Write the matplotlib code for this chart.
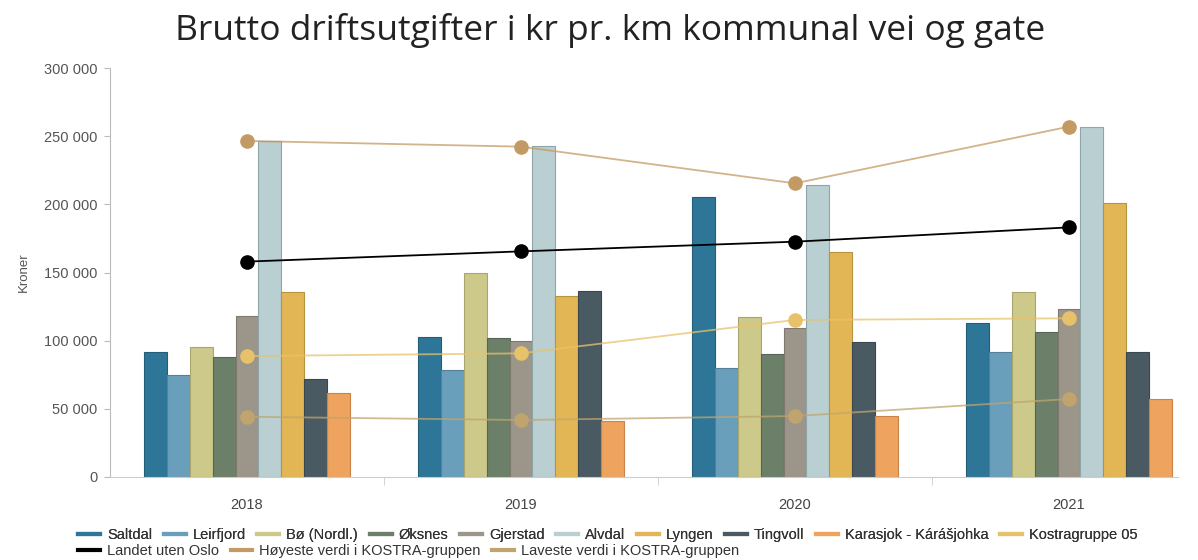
import numpy as np
import matplotlib.pyplot as plt

years = ["2018", "2019", "2020", "2021"]

# kommuner (bars)
kommuner = ["Saltdal", "Leirfjord", "Bø (Nordl.)", "Øksnes", "Gjerstad",
            "Alvdal", "Lyngen", "Tingvoll", "Karasjok - Kárášjohka"]
saltdal = [92000, 102700, 205600, 113200]
leirfjord = [74600, 78500, 79700, 91900]
bo = [95600, 149900, 117100, 135500]
oksnes = [88000, 101700, 90200, 106600]
gjerstad = [118000, 99800, 109300, 123000]
alvdal = [246500, 242800, 214200, 257000]
lyngen = [135500, 132800, 165300, 200700]
tingvoll = [71900, 136400, 98800, 91900]
karasjok = [61900, 41100, 44700, 57200]

# reference lines
kostragruppe = [88700, 90700, 115200, 116400]
landet = [158000, 165500, 172600, 183100]
hoyeste = [246500, 242300, 215400, 257000]
laveste = [44200, 41800, 44700, 57200]

bar_values = [saltdal, leirfjord, bo, oksnes, gjerstad, alvdal, lyngen, tingvoll, karasjok]
bar_colors = ["#2e7698", "#6a9fbb", "#cdc98a", "#6b7f69", "#9c9589",
              "#b9cfd2", "#e3b655", "#4a5a63", "#eea35e"]
bar_edges = ["#245d78", "#55809a", "#a9a56f", "#566655", "#7f786e",
             "#8fa5a8", "#b8933f", "#3a474f", "#c8844a"]

plt.rcParams['font.family'] = ['Liberation Sans', 'DejaVu Sans']

fig = plt.figure(figsize=(11.98, 5.60), dpi=100)
ax = fig.add_axes([110 / 1198, 1 - 477 / 560, (1178 - 110) / 1198, (477 - 68) / 560])

x = np.arange(len(years))
w = 0.0836
for i, (vals, c, ec) in enumerate(zip(bar_values, bar_colors, bar_edges)):
    ax.bar(x + (i - 4) * w, vals, width=w, color=c, edgecolor=ec,
           linewidth=0.8, label=kommuner[i], zorder=2)

line_handles = []
for vals, c, lab, a in [(kostragruppe, "#e8c26a", "Kostragruppe 05", 0.75),
                        (landet, "#000000", "Landet uten Oslo", 1.0),
                        (hoyeste, "#c49a64", "Høyeste verdi i KOSTRA-gruppen", 0.75),
                        (laveste, "#bfa56d", "Laveste verdi i KOSTRA-gruppen", 0.75)]:
    ax.plot(x, vals, color=c, lw=1.3, alpha=a, zorder=3)
    ax.plot(x, vals, 'o', color=c, ms=9.5, zorder=4)
    line_handles.append(plt.Line2D([], [], color=c, lw=3, label=lab))

ax.set_xlim(-0.5, -0.5 + (1178 - 110) / 274)
ax.set_ylim(0, 300000)
ax.set_yticks(np.arange(0, 300001, 50000))
ax.set_yticklabels([f"{v:,}".replace(",", " ") for v in range(0, 300001, 50000)])
ax.set_xticks(x)
ax.set_xticklabels(years)
ax.set_xticks(np.arange(0.5, 3.5, 1), minor=True)

for s in ["top", "right"]:
    ax.spines[s].set_visible(False)
ax.spines["bottom"].set_color("#cccccc")
ax.spines["left"].set_color("#bbbbbb")
ax.spines["left"].set_linewidth(0.8)
ax.tick_params(axis="y", length=4, width=0.8, color="#bbbbbb", labelsize=10.5,
               labelcolor="#555555", pad=5)
ax.tick_params(axis="x", which="major", length=0, labelsize=10.5, labelcolor="#444444", pad=15)
ax.tick_params(axis="x", which="minor", length=6, color="#cccccc")
ax.set_ylabel("Kroner", fontsize=9.5, color="#555555", labelpad=10)

fig.text(610 / 1198, 1 - 30 / 560, "Brutto driftsutgifter i kr pr. km kommunal vei og gate",
         ha="center", va="center", fontsize=25.5, family=["Open Sans", "DejaVu Sans"],
         color="#222222")

bar_handles = [plt.Line2D([], [], color=c, lw=3, label=k) for c, k in zip(bar_colors, kommuner)]
leg_kw = dict(loc="center left", frameon=False, fontsize=10.5, handlelength=1.5,
              handletextpad=0.48, columnspacing=0.8, borderaxespad=0, borderpad=0,
              labelcolor="#333333")
leg1 = fig.legend(handles=bar_handles + [line_handles[0]], ncol=10,
                  bbox_to_anchor=(78 / 1198, 1 - 535 / 560), **leg_kw)
fig.legend(handles=line_handles[1:], ncol=3,
           bbox_to_anchor=(78 / 1198, 1 - 551 / 560), **leg_kw)
fig.add_artist(leg1)

fig.savefig("out.png", dpi=100)
